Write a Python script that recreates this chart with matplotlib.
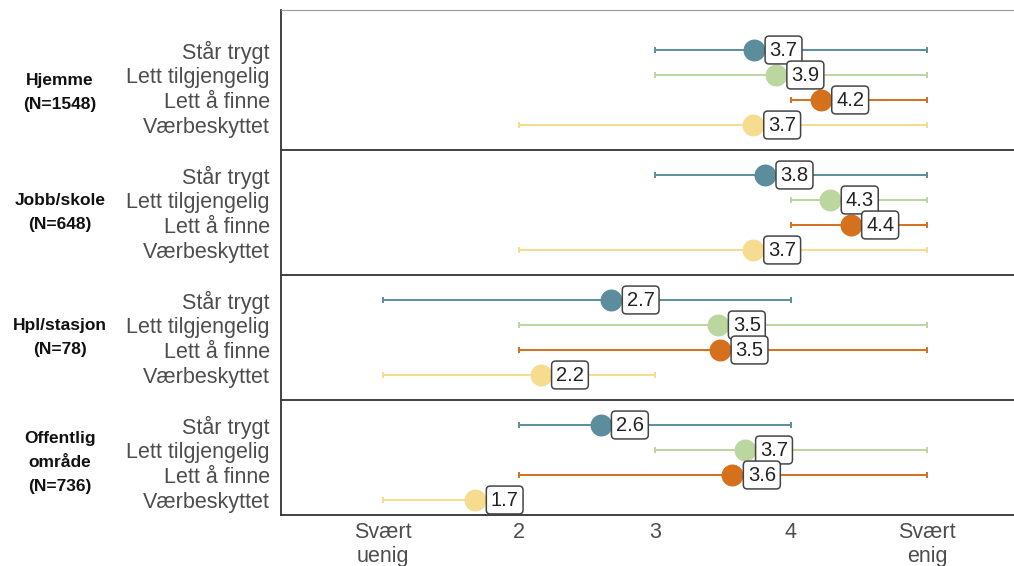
import numpy as np
import matplotlib.pyplot as plt

plt.rcParams['font.family'] = ['Liberation Sans', 'DejaVu Sans']

groups = ['Hjemme\n(N=1548)', 'Jobb/skole\n(N=648)', 'Hpl/stasjon\n(N=78)', 'Offentlig\nområde\n(N=736)']
items = ['Står trygt', 'Lett tilgjengelig', 'Lett å finne', 'Værbeskyttet']
colors = ['#5b8d9c', '#bcd6a0', '#d5701d', '#f6dc8e']

# mean per group (rows) and item (columns)
means = np.array([
    [3.73, 3.89, 4.22, 3.72],
    [3.81, 4.29, 4.44, 3.72],
    [2.68, 3.46, 3.48, 2.16],
    [2.60, 3.66, 3.57, 1.68],
])
lows = np.array([
    [3, 3, 4, 2],
    [3, 4, 4, 2],
    [1, 2, 2, 1],
    [2, 3, 2, 1],
])
highs = np.array([
    [5, 5, 5, 5],
    [5, 5, 5, 5],
    [4, 5, 5, 3],
    [4, 5, 5, 2],
])
xticks = [1, 2, 3, 4, 5]
xticklabels = ['Svært\nuenig', '2', '3', '4', 'Svært\nenig']

fig = plt.figure(figsize=(10.14, 5.66), dpi=100)
ax = fig.add_axes([281/1014, 1 - 515/566, 1 - 281/1014, 505/566])

ypos = []
for g in range(len(groups)):
    for i in range(len(items)):
        y = g * 5 + i
        ypos.append(y)
        m, lo, hi = means[g, i], lows[g, i], highs[g, i]
        ax.errorbar(m, y, xerr=[[m - lo], [hi - m]], fmt='none', ecolor=colors[i],
                    elinewidth=1.4, capsize=2, capthick=1.4, zorder=2)
        ax.scatter(m, y, s=250, color=colors[i], zorder=3, linewidths=0)
        ax.annotate(f'{m:.1f}', (m, y), xytext=(11, 0), textcoords='offset points',
                    ha='left', va='center', fontsize=14.5, color='#222222', zorder=4,
                    bbox=dict(boxstyle='round,pad=0.22,rounding_size=0.2', fc='white',
                              ec='#444444', lw=1.1))
    ymid = g * 5 + 1.5 + (0.2 if g == 0 else 0)
    ax.text(-0.3015, ymid, groups[g], transform=ax.get_yaxis_transform(),
            ha='center', va='center', fontsize=12.5, fontweight='bold',
            color='#111111', linespacing=1.75)
    if g > 0:
        ax.axhline(g * 5 - 1, color='#333333', lw=1.3, zorder=1)

ax.set_yticks(ypos)
ax.set_yticklabels(items * len(groups), fontsize=15.5, color='#4d4d4d')
ax.set_xticks(xticks)
ax.set_xticklabels(xticklabels, fontsize=15.5, color='#4d4d4d', linespacing=1.2)
ax.tick_params(length=0, pad=5)
ax.tick_params(axis='y', pad=8)
ax.set_xlim(0.25, 5.64)
ax.set_ylim(18.6, -1.6)

ax.spines['right'].set_visible(False)
ax.spines['top'].set_color('#999999')
for s in ['left', 'bottom']:
    ax.spines[s].set_color('#333333')
    ax.spines[s].set_linewidth(1.3)

fig.savefig('out.png', dpi=100)
